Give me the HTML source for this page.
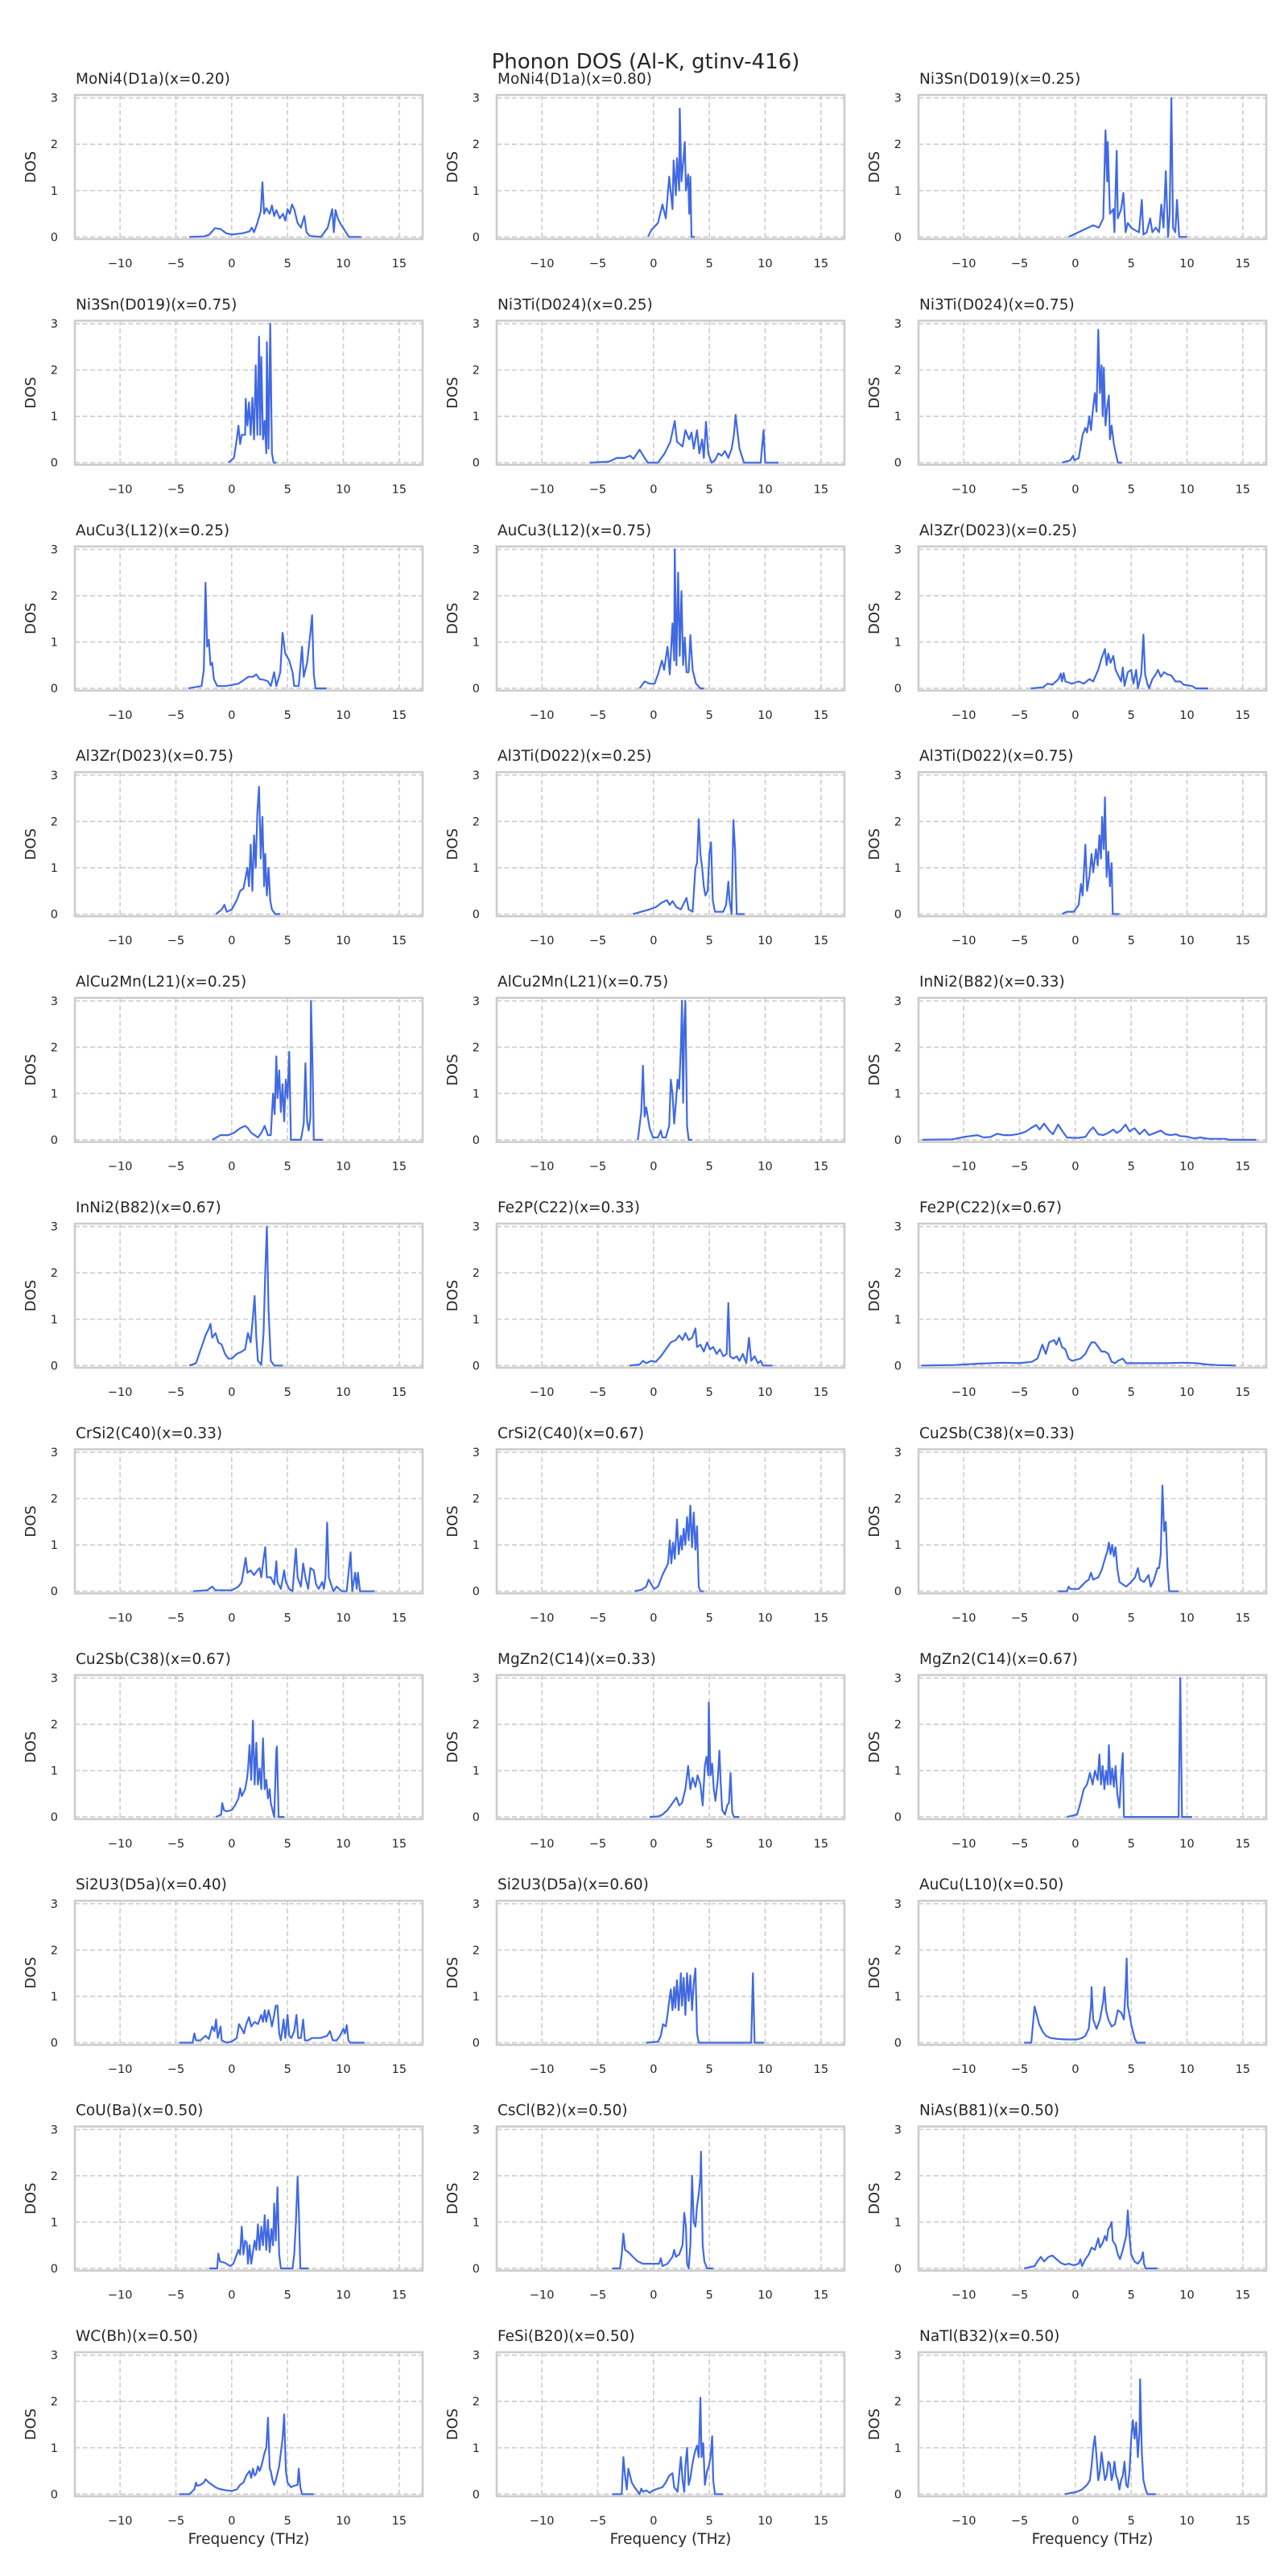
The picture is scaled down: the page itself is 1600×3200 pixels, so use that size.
<!DOCTYPE html>
<html><head><meta charset="utf-8"><title>Phonon DOS (Al-K, gtinv-416)</title>
<style>
html,body{margin:0;padding:0;background:#fff;}
svg{display:block;font-family:"DejaVu Sans","Liberation Sans",sans-serif;}
</style></head>
<body>
<svg id="fig" width="1600" height="3200" viewBox="0 0 1600 3200" xmlns="http://www.w3.org/2000/svg">
<rect width="1600" height="3200" fill="#fff"/>
<text x="802" y="85" font-size="26" text-anchor="middle" fill="#262626">Phonon DOS (Al-K, gtinv-416)</text>
</svg>
<script>
const titles=["MoNi4(D1a)(x=0.20)","MoNi4(D1a)(x=0.80)","Ni3Sn(D019)(x=0.25)","Ni3Sn(D019)(x=0.75)","Ni3Ti(D024)(x=0.25)","Ni3Ti(D024)(x=0.75)","AuCu3(L12)(x=0.25)","AuCu3(L12)(x=0.75)","Al3Zr(D023)(x=0.25)","Al3Zr(D023)(x=0.75)","Al3Ti(D022)(x=0.25)","Al3Ti(D022)(x=0.75)","AlCu2Mn(L21)(x=0.25)","AlCu2Mn(L21)(x=0.75)","InNi2(B82)(x=0.33)","InNi2(B82)(x=0.67)","Fe2P(C22)(x=0.33)","Fe2P(C22)(x=0.67)","CrSi2(C40)(x=0.33)","CrSi2(C40)(x=0.67)","Cu2Sb(C38)(x=0.33)","Cu2Sb(C38)(x=0.67)","MgZn2(C14)(x=0.33)","MgZn2(C14)(x=0.67)","Si2U3(D5a)(x=0.40)","Si2U3(D5a)(x=0.60)","AuCu(L10)(x=0.50)","CoU(Ba)(x=0.50)","CsCl(B2)(x=0.50)","NiAs(B81)(x=0.50)","WC(Bh)(x=0.50)","FeSi(B20)(x=0.50)","NaTl(B32)(x=0.50)"];
const xTicks=[-10,-5,0,5,10,15];
const yTicks=[0,1,2,3];
const freqs=[
[-3.8,-2.5,-2,-1.5,-1,-0.5,0,1,1.6,1.8,2,2.3,2.6,2.75,2.9,3.1,3.4,3.6,3.8,4.0,4.3,4.6,4.8,5.0,5.2,5.4,5.6,5.9,6.2,6.5,6.7,7.0,8,8.6,9.0,9.15,9.3,9.5,9.7,10.1,10.5,11.6],
[-0.5,-0.2,0.4,0.8,1.1,1.4,1.7,1.8,2.0,2.1,2.3,2.35,2.5,2.65,2.8,2.9,3.1,3.2,3.3,3.4,3.7],
[-0.6,1.6,2.1,2.5,2.7,2.85,2.9,3.1,3.4,3.5,3.7,3.8,4.1,4.3,4.5,4.7,5.0,5.3,5.7,5.95,6.1,6.4,6.7,6.9,7.2,7.5,7.7,7.9,8.1,8.3,8.45,8.6,8.75,8.95,9.1,9.3,10],
[-0.3,0.2,0.45,0.6,0.75,0.9,1.2,1.25,1.4,1.55,1.7,1.85,2.0,2.15,2.3,2.45,2.55,2.65,2.8,2.95,3.1,3.15,3.3,3.45,3.6,3.75,4.0],
[-5.7,-4.0,-3.3,-2.6,-2.1,-1.8,-1.25,-0.8,-0.5,0.4,1.0,1.5,1.9,2.1,2.6,2.85,3.2,3.4,3.6,3.9,4.1,4.35,4.5,4.7,4.9,5.2,5.5,5.8,6.1,6.4,6.7,7.0,7.2,7.35,7.5,7.7,8.1,9.6,9.85,10.0,11.2],
[-1.2,-0.45,-0.2,-0.1,0.3,0.65,0.9,1.05,1.25,1.4,1.6,1.75,1.9,2.05,2.2,2.35,2.45,2.55,2.7,2.85,3.0,3.1,3.25,3.45,3.8,4.2],
[-3.9,-2.7,-2.5,-2.35,-2.2,-2.05,-1.9,-1.75,-1.6,-1.3,-0.5,0.6,1.2,1.5,1.9,2.2,2.5,2.95,3.25,3.5,3.8,4.0,4.35,4.55,4.8,5.15,5.45,5.6,6.0,6.3,6.45,6.75,7.05,7.2,7.35,7.5,8.5],
[-1.25,-0.8,-0.35,0.1,0.4,0.75,0.95,1.25,1.45,1.7,1.85,1.9,2.05,2.2,2.35,2.5,2.65,2.8,2.95,3.15,3.3,3.5,3.8,4.2,4.5],
[-4.0,-2.9,-2.5,-2.05,-1.5,-1.3,-1.2,-1.05,-0.9,-0.3,0.3,0.75,1.25,1.6,2.05,2.35,2.65,2.8,2.95,3.15,3.4,3.6,3.8,4.1,4.25,4.4,4.7,5.0,5.2,5.45,5.6,5.9,6.1,6.25,6.45,6.6,6.9,7.2,7.4,7.65,7.95,8.25,8.6,8.95,9.4,9.7,10.45,10.8,11.9],
[-1.4,-0.9,-0.65,-0.45,0,0.45,0.75,1.05,1.25,1.4,1.55,1.7,1.85,2.0,2.15,2.3,2.45,2.6,2.75,2.9,3.0,3.15,3.3,3.45,3.6,3.9,4.35],
[-1.85,-1.1,-0.35,0.2,0.75,1.2,1.45,1.7,2.05,2.45,2.95,3.15,3.5,3.75,3.9,4.05,4.2,4.35,4.5,4.65,4.85,5.0,5.15,5.3,5.5,6.25,6.5,6.7,6.8,7.0,7.15,7.3,7.45,8.15],
[-1.2,-0.75,-0.15,0.3,0.5,0.65,0.9,1.05,1.25,1.45,1.6,1.85,2.0,2.15,2.3,2.4,2.55,2.65,2.8,2.95,3.1,3.25,3.35,3.95],
[-1.75,-1.0,-0.3,0.2,0.75,1.2,1.45,1.75,2.05,2.35,2.65,2.95,3.25,3.5,3.7,3.85,4.0,4.1,4.25,4.4,4.55,4.7,4.85,5.0,5.15,5.3,6.2,6.45,6.6,6.75,6.9,7.05,7.1,7.25,7.35,8.15],
[-1.4,-1.1,-0.95,-0.8,-0.65,-0.35,-0.05,0.4,0.65,0.8,1.1,1.4,1.55,1.7,1.85,2.0,2.15,2.3,2.45,2.55,2.65,2.75,2.85,3.0,3.15,3.45],
[-13.7,-11.0,-10,-9.4,-8.8,-8.2,-7.6,-7.0,-6.4,-5.7,-5.0,-4.4,-4.0,-3.5,-3.2,-2.8,-2.35,-2.0,-1.55,-1.2,-0.75,0.15,0.9,1.3,1.6,2.05,2.5,2.95,3.4,3.7,4.05,4.5,4.85,5.3,5.75,6.2,6.6,7.05,7.65,8.1,8.55,9.0,9.4,10.0,10.6,11.2,11.9,13.5,13.7,16.2],
[-3.8,-3.2,-2.7,-2.35,-2.05,-1.9,-1.75,-1.45,-1.2,-0.9,-0.6,-0.3,0,0.45,0.9,1.2,1.45,1.7,1.9,2.05,2.2,2.35,2.65,2.85,3.0,3.15,3.3,3.5,3.8,4.55],
[-2.15,-1.25,-0.95,-0.65,-0.2,0.2,0.65,1.1,1.55,2.0,2.3,2.6,2.85,3.15,3.45,3.75,3.9,4.2,4.5,4.8,5.05,5.35,5.65,5.95,6.25,6.55,6.7,6.85,7.15,7.45,7.7,8.0,8.3,8.55,8.75,9.05,9.35,9.6,9.8,10.65],
[-13.8,-10.9,-8.7,-6.5,-5.0,-3.9,-3.4,-2.95,-2.65,-2.35,-1.9,-1.7,-1.45,-1.2,-0.9,-0.6,-0.3,0,0.45,0.9,1.2,1.45,1.75,2.05,2.35,2.65,2.95,3.25,3.55,3.8,4.25,4.55,5.3,6.75,8.25,9.7,10.8,11.9,12.65,14.35],
[-3.45,-2.2,-1.75,-1.45,0,0.6,0.9,1.1,1.25,1.4,1.7,2.0,2.3,2.5,2.65,2.85,3.0,3.15,3.5,3.8,4.0,4.1,4.4,4.7,4.85,5.15,5.45,5.75,5.9,6.2,6.4,6.6,6.85,7.05,7.35,7.55,7.8,8.1,8.25,8.4,8.55,8.7,8.9,9.1,9.4,9.85,10.3,10.65,10.8,11.05,11.2,11.3,11.5,12.8],
[-1.7,-1.1,-0.65,-0.45,-0.2,0.05,0.4,0.8,1.1,1.3,1.45,1.6,1.75,1.9,2.1,2.25,2.45,2.55,2.7,2.85,3.0,3.15,3.3,3.45,3.6,3.75,3.9,4.05,4.2,4.5],
[-1.55,-0.75,-0.6,-0.45,0.3,0.9,1.2,1.4,1.6,2.05,2.35,2.65,2.85,3.0,3.15,3.3,3.45,3.6,3.75,3.95,4.25,4.55,5.0,5.35,5.6,5.8,6.15,6.55,6.75,7.05,7.35,7.5,7.65,7.8,7.95,8.1,8.25,8.4,9.25],
[-1.4,-0.95,-0.85,-0.7,-0.45,0,0.3,0.6,0.75,0.9,1.2,1.35,1.45,1.6,1.75,1.9,2.05,2.2,2.35,2.5,2.65,2.8,2.95,3.1,3.25,3.4,3.5,3.7,3.8,4.0,4.05,4.2,4.7],
[-0.35,0.4,0.8,1.25,1.7,2.05,2.3,2.55,2.85,3.1,3.3,3.5,3.75,3.95,4.2,4.4,4.6,4.75,4.9,4.95,5.1,5.25,5.4,5.55,5.75,5.9,6.0,6.15,6.4,6.6,6.75,6.9,7.05,7.2,7.7],
[-0.75,0.15,0.45,0.75,1.05,1.3,1.55,1.75,2.0,2.15,2.3,2.45,2.6,2.75,2.9,3.0,3.15,3.3,3.45,3.6,3.75,3.95,4.1,4.25,4.35,9.25,9.4,9.55,10.45],
[-4.7,-3.5,-3.35,-3.2,-2.8,-2.35,-2.05,-1.75,-1.55,-1.4,-1.25,-1.0,-0.9,-0.45,0.05,0.45,0.65,0.9,1.1,1.3,1.55,1.75,2.05,2.35,2.65,2.8,2.95,3.1,3.3,3.45,3.6,3.8,3.95,4.1,4.25,4.4,4.65,4.8,5.0,5.15,5.35,5.6,5.8,5.95,6.2,6.4,6.55,6.85,7.2,7.95,8.55,8.8,9.05,9.4,9.7,10.0,10.15,10.3,10.45,10.6,11.9],
[-0.65,0.4,0.65,0.85,1.1,1.25,1.4,1.55,1.7,1.85,1.95,2.1,2.25,2.45,2.55,2.7,2.85,3.0,3.15,3.3,3.45,3.6,3.75,3.9,4.05,8.75,8.9,9.05,9.9],
[-4.6,-3.95,-3.65,-3.45,-3.25,-2.95,-2.65,-2.2,-1.6,-0.75,0.15,0.6,0.9,1.2,1.4,1.45,1.6,1.9,2.2,2.5,2.6,2.75,2.95,3.25,3.55,3.8,4.1,4.35,4.5,4.6,4.7,5.0,5.3,5.5,6.3],
[-2.0,-1.3,-1.2,-1.05,-0.6,-0.15,0.15,0.45,0.6,0.75,0.9,1.05,1.2,1.35,1.45,1.6,1.75,2.05,2.2,2.35,2.5,2.65,2.8,2.95,3.1,3.25,3.4,3.55,3.7,3.8,3.95,4.1,4.25,4.4,5.45,5.6,5.75,5.9,6.0,6.15,6.9],
[-3.7,-3.0,-2.85,-2.7,-2.55,-2.25,-1.85,-1.4,-0.95,-0.35,0.2,0.5,0.65,0.8,1.25,1.7,1.85,2.0,2.3,2.6,2.75,2.9,3.0,3.15,3.3,3.45,3.6,3.75,3.9,4.05,4.2,4.25,4.4,4.55,4.8,5.35],
[-4.6,-3.65,-3.4,-3.1,-2.8,-2.4,-2.05,-1.7,-1.3,-0.95,-0.6,-0.15,0.3,0.45,0.6,0.9,1.2,1.45,1.75,2.05,2.2,2.45,2.65,2.8,2.95,3.1,3.25,3.35,3.6,3.8,4.0,4.25,4.55,4.7,4.85,5.0,5.3,5.6,5.9,6.05,6.15,6.3,7.35],
[-4.7,-3.8,-3.35,-3.2,-3.1,-2.8,-2.5,-2.35,-2.05,-1.75,-1.45,-1.2,-0.9,-0.45,0,0.45,0.75,1.05,1.3,1.6,1.75,1.9,2.05,2.2,2.35,2.5,2.65,2.8,2.95,3.1,3.25,3.4,3.5,3.65,3.8,3.95,4.1,4.25,4.4,4.55,4.7,4.85,5.0,5.3,5.6,5.9,6.0,6.15,6.3,7.35],
[-3.7,-2.85,-2.7,-2.55,-2.4,-2.25,-2.1,-1.95,-1.7,-1.4,-1.25,-1.1,-0.95,-0.65,-0.35,-0.05,0.4,0.8,1.1,1.4,1.7,1.85,2.15,2.45,2.6,2.75,2.85,3.0,3.15,3.3,3.45,3.6,3.75,3.9,4.05,4.2,4.3,4.45,4.6,4.8,4.95,5.1,5.25,5.35,5.5,6.25],
[-0.95,-0.3,0.15,0.6,1.05,1.3,1.45,1.6,1.75,1.9,2.05,2.2,2.35,2.5,2.65,2.8,2.95,3.1,3.25,3.35,3.5,3.65,3.8,3.95,4.1,4.25,4.4,4.55,4.7,4.85,5.0,5.15,5.3,5.45,5.6,5.75,5.8,5.95,6.1,6.3,6.45,7.2]
];
const dosValues=[
[0,0.01,0.05,0.19,0.17,0.08,0.05,0.08,0.12,0.2,0.1,0.3,0.55,1.18,0.5,0.62,0.5,0.68,0.45,0.58,0.4,0.5,0.35,0.6,0.5,0.7,0.6,0.3,0.2,0.45,0.1,0.02,0,0.2,0.6,0.1,0.58,0.4,0.3,0.15,0,0],
[0,0.15,0.3,0.7,0.4,1.3,0.6,1.65,0.9,1.7,1.0,2.77,1.2,1.6,2.05,1.0,1.35,0.5,1.3,0,0],
[0,0.25,0.2,0.4,2.3,1.2,2.05,0.5,0.6,0.1,1.86,0.4,0.6,0.95,0.1,0.3,0.2,0.15,0.1,0.8,0.05,0.1,0.4,0.1,0.2,0.1,0.7,0.2,1.42,0,0.5,3.0,0.2,0.1,0.8,0,0],
[0,0.1,0.5,0.8,0.4,0.6,0.6,1.38,0.8,1.3,0.6,1.4,0.5,2.1,0.6,2.72,0.6,2.28,0.5,0.9,0.2,2.6,0.3,3.0,0.2,0,0],
[0,0.02,0.1,0.1,0.15,0.08,0.28,0.1,0,0,0.2,0.45,0.9,0.45,0.35,0.7,0.5,0.65,0.3,0.7,0.2,0.5,0.1,0.88,0.2,0,0.05,0.2,0.15,0.25,0.1,0.3,0.6,1.03,0.7,0.3,0,0,0.7,0,0],
[0,0.05,0.15,0.05,0.1,0.6,0.75,0.65,1.0,0.7,1.2,1.5,1.1,2.87,1.5,2.1,1.0,2.05,0.8,1.2,1.45,0.5,0.8,0.4,0,0],
[0,0.05,0.4,2.28,0.9,1.05,0.5,0.55,0.2,0.05,0.05,0.1,0.2,0.25,0.25,0.3,0.2,0.18,0.15,0.05,0.35,0.05,0.35,1.2,0.75,0.6,0.35,0.05,0.05,0.9,0.25,0.55,1.2,1.58,0.3,0,0],
[0,0.15,0.1,0.1,0.3,0.6,0.4,0.9,0.3,1.4,0.6,3.0,0.5,2.5,0.7,2.1,0.5,1.1,0.35,0.35,1.15,0.4,0.1,0,0],
[0,0.02,0.1,0.08,0.2,0.32,0.15,0.33,0.15,0.1,0.15,0.1,0.2,0.15,0.4,0.65,0.85,0.5,0.75,0.55,0.7,0.4,0.3,0.15,0.45,0.05,0.35,0.4,0.1,0.4,0,0.3,1.16,0.3,0.1,0,0.2,0.3,0.4,0.25,0.35,0.3,0.28,0.15,0.15,0.08,0.05,0,0],
[0,0.1,0.2,0.05,0.1,0.3,0.5,0.55,0.8,1.0,0.6,1.5,0.5,1.7,1.0,2.2,2.75,1.2,2.1,0.6,1.3,0.4,1.0,0.3,0.1,0,0],
[0,0.05,0.1,0.15,0.25,0.3,0.2,0.28,0.15,0.1,0.35,0.1,0.05,1.0,1.1,2.05,1.3,1.0,0.6,0.4,0.5,1.3,1.55,0.3,0.05,0.05,0.2,0.7,0.3,0,2.03,1.4,0,0],
[0,0.05,0.05,0.2,0.65,0.4,1.5,0.5,0.8,1.3,0.9,1.4,1.05,1.7,1.2,2.1,1.4,2.52,0.8,1.35,0.6,1.1,0,0],
[0,0.1,0.1,0.15,0.25,0.3,0.25,0.15,0.1,0.05,0.15,0.3,0.1,0.1,1.0,0.55,1.8,0.9,1.5,0.6,1.2,0.4,1.3,0.9,1.9,0,0,0.35,1.65,0.4,0.2,0.5,3.0,1.5,0,0],
[0,0.6,1.6,0.5,0.7,0.25,0.05,0.05,0.2,0.05,0.05,0.3,1.3,1.0,0.35,0.8,1.3,1.1,2.0,3.0,0.8,2.5,3.0,0.3,0,0],
[0,0.01,0.06,0.08,0.1,0.05,0.06,0.13,0.1,0.1,0.13,0.18,0.25,0.32,0.22,0.35,0.2,0.12,0.33,0.2,0.05,0.04,0.06,0.2,0.27,0.12,0.1,0.15,0.22,0.15,0.2,0.33,0.18,0.25,0.12,0.22,0.1,0.14,0.2,0.12,0.1,0.12,0.08,0.07,0.03,0.05,0.02,0.02,0,0],
[0,0.05,0.4,0.65,0.8,0.9,0.6,0.7,0.5,0.45,0.25,0.15,0.15,0.25,0.3,0.35,0.7,0.5,1.05,1.5,0.6,0.1,0.02,0.7,2.0,3.0,1.2,0.1,0,0],
[0,0.02,0.1,0.05,0.1,0.08,0.2,0.35,0.5,0.55,0.65,0.55,0.7,0.55,0.6,0.8,0.4,0.45,0.3,0.5,0.35,0.4,0.25,0.35,0.2,0.25,1.35,0.2,0.15,0.2,0.1,0.25,0.05,0.6,0.1,0.2,0.05,0.1,0,0],
[0,0.01,0.04,0.06,0.05,0.08,0.15,0.45,0.25,0.5,0.55,0.45,0.6,0.4,0.35,0.15,0.1,0.12,0.15,0.25,0.4,0.5,0.5,0.4,0.3,0.3,0.25,0.08,0.05,0.1,0.15,0.05,0.05,0.05,0.05,0.06,0.05,0.02,0.01,0],
[0,0.02,0.1,0.02,0.02,0.1,0.2,0.5,0.72,0.4,0.45,0.35,0.45,0.5,0.3,0.7,0.95,0.3,0.3,0.15,0.65,0.2,0.05,0.45,0.2,0.05,0,0.92,0.3,0.1,0.6,0.3,0.05,0.5,0.45,0.15,0.05,0.2,0.05,0.3,1.48,0.3,0.15,0,0.1,0,0,0.84,0,0.4,0.05,0.4,0,0],
[0,0.03,0.1,0.25,0.15,0.05,0.1,0.35,0.5,0.6,1.1,0.6,1.05,0.7,1.55,0.8,1.2,0.9,1.35,1.0,1.6,1.1,1.85,0.95,1.7,0.9,1.4,0.1,0,0],
[0,0,0.1,0.05,0.05,0.2,0.25,0.4,0.25,0.3,0.45,0.7,0.85,1.05,0.8,1.0,0.75,0.95,0.5,0.2,0.15,0.1,0.2,0.3,0.5,0.25,0.2,0.35,0.1,0.25,0.5,0.5,0.8,2.28,1.3,1.5,0.5,0,0],
[0,0.05,0.3,0.15,0.12,0.15,0.25,0.4,0.62,0.45,0.6,0.8,1.0,1.55,0.8,2.08,0.7,1.6,0.7,1.05,0.6,1.7,0.6,0.8,0.4,0.6,0.3,0.1,0,1.45,1.52,0,0],
[0,0.01,0.05,0.15,0.3,0.42,0.25,0.3,0.6,1.1,0.6,0.85,0.65,0.9,0.7,0.25,1.1,1.3,0.9,2.47,0.9,1.15,0.6,0.35,0.8,1.43,0.8,0.15,0.05,0.25,0.3,0.95,0.1,0,0],
[0,0.05,0.3,0.6,0.7,0.95,0.7,1.0,0.8,1.35,0.7,1.1,0.6,1.0,0.7,1.55,0.7,1.05,0.65,1.1,0.5,0.2,0.9,1.38,0,0,3.0,0,0],
[0,0,0.2,0.05,0.05,0.15,0.08,0.35,0.25,0.5,0.1,0.35,0.05,0,0.03,0.1,0.4,0.3,0.2,0.4,0.55,0.35,0.45,0.4,0.6,0.45,0.7,0.45,0.7,0.55,0.35,0.6,0.8,0.8,0.2,0.05,0.5,0.1,0.6,0.15,0.1,0.25,0.6,0.1,0.1,0.5,0.05,0.05,0.1,0.1,0.15,0.25,0.05,0.05,0.15,0.3,0.2,0.38,0.05,0,0],
[0,0.02,0.15,0.4,0.35,0.6,0.9,1.15,0.7,1.2,0.75,1.35,0.7,1.5,0.8,1.4,0.6,1.5,0.9,1.45,0.7,1.3,1.6,0.2,0,0,1.5,0,0],
[0,0,0.78,0.6,0.4,0.25,0.15,0.1,0.08,0.07,0.07,0.1,0.15,0.3,0.8,1.2,0.5,0.3,0.5,0.9,1.2,0.7,0.5,0.35,0.4,0.7,0.65,0.5,1.2,1.82,0.8,0.4,0.1,0,0],
[0,0,0.32,0.15,0.12,0.05,0.1,0.3,0.4,0.3,0.9,0.3,0.6,0.55,0.1,0.5,0.1,0.6,0.4,0.95,0.4,0.9,0.5,1.15,0.4,1.05,0.35,0.85,0.5,1.4,0.6,1.75,0.3,0,0,0.3,1.0,1.98,1.3,0,0],
[0,0,0.3,0.75,0.4,0.35,0.25,0.15,0.1,0.1,0.1,0.1,0.22,0.05,0.1,0.25,0.4,0.25,0.3,0.5,1.2,0.9,0.1,0,0.5,2.0,1.0,0.9,1.35,1.6,2.0,2.52,0.5,0.15,0,0],
[0,0.05,0.15,0.25,0.15,0.25,0.28,0.2,0.12,0.08,0.1,0.07,0.1,0.2,0.05,0.2,0.3,0.45,0.4,0.65,0.45,0.55,0.7,0.6,0.85,0.9,1.0,0.6,0.5,0.3,0.2,0.4,0.7,1.25,0.7,0.3,0.15,0.1,0.2,0.35,0.1,0,0],
[0,0,0.1,0.25,0.18,0.2,0.25,0.32,0.25,0.2,0.15,0.12,0.1,0.08,0.07,0.1,0.2,0.25,0.4,0.5,0.35,0.55,0.4,0.45,0.6,0.5,0.6,0.75,0.9,1.0,1.65,0.55,0.5,0.3,0.2,0.3,0.45,0.6,0.9,1.2,1.72,0.5,0.25,0.15,0.18,0.2,0.55,0.15,0,0],
[0,0,0.8,0.4,0.1,0.55,0.4,0.25,0.15,0.05,0,0.12,0.05,0.08,0.03,0.08,0.12,0.15,0.25,0.4,0.45,0.15,0.05,0.8,0.3,0.05,0.6,1.0,0.2,0.35,0.6,0.8,0.95,1.05,0.8,2.08,0.8,1.1,0.2,0.5,0.6,0.8,1.25,0.3,0,0],
[0,0.03,0.05,0.1,0.2,0.3,0.6,1.0,1.25,0.8,0.3,0.5,0.9,0.6,0.3,0.4,0.7,0.65,0.3,0.4,0.7,0.4,0.3,0.1,0.3,0.4,0.7,0.2,0.15,0.5,1.2,1.6,1.2,1.55,0.8,1.4,2.48,0.9,0.3,0.1,0,0]
];
const XMIN=-14.05,XMAX=17.1,YMIN=-0.047,YMAX=3.064;
const AX_W=432,AX_H=179,COL_X=[93,617,1141],ROW_Y0=118,ROW_PITCH=280.4;
const NS="http://www.w3.org/2000/svg";
const svg=document.getElementById('fig');
function mk(tag,attrs,parent){const e=document.createElementNS(NS,tag);for(const k in attrs)e.setAttribute(k,attrs[k]);(parent||svg).appendChild(e);return e;}
const defs=mk('defs',{});
titles.forEach((t,i)=>{
  const col=i%3,row=Math.floor(i/3);
  const L=COL_X[col],T=ROW_Y0+row*ROW_PITCH;
  const sx=v=>L+(v-XMIN)/(XMAX-XMIN)*AX_W;
  const sy=v=>T+(YMAX-v)/(YMAX-YMIN)*AX_H;
  const g=mk('g',{});
  
  
  const cp=mk('clipPath',{id:'clip'+i},defs);
  mk('rect',{x:L,y:T,width:AX_W,height:AX_H},cp);
  xTicks.forEach(v=>{
    const l=mk('line',{x1:sx(v),x2:sx(v),y1:T,y2:T+AX_H,stroke:'#cccccc','stroke-width':1.6,'stroke-dasharray':'6,3.5'},g);
    
    
    const tl=mk('text',{x:sx(v),y:T+AX_H+35,'font-size':14.5,'text-anchor':'middle',fill:'#262626'},g);
    
    
    tl.textContent=v<0?'\u2212'+Math.abs(v):String(v);
  });
  yTicks.forEach(v=>{
    const l=mk('line',{x1:L,x2:L+AX_W,y1:sy(v),y2:sy(v),stroke:'#cccccc','stroke-width':1.6,'stroke-dasharray':'6,3.5'},g);
    
    
    const tl=mk('text',{x:L-21,y:sy(v)+5,'font-size':14.5,'text-anchor':'end',fill:'#262626'},g);
    
    
    tl.textContent=String(v);
  });
  const f=freqs[i],d=dosValues[i];
  let p='';
  for(let k=0;k<f.length;k++){p+=(k?'L':'M')+sx(f[k]).toFixed(1)+' '+sy(d[k]).toFixed(1);}
  const path=mk('path',{d:p,fill:'none',stroke:'#4169e1','stroke-width':2.2,'stroke-linejoin':'round','clip-path':'url(#clip'+i+')'},g);
  
  
  const fr=mk('rect',{x:L,y:T,width:AX_W,height:AX_H,fill:'none',stroke:'#cccccc','stroke-width':2.6},g);
  
  
  const tt=mk('text',{x:L+1,y:T-14,'font-size':18.5,fill:'#262626'},g);
  
  
  tt.textContent=t;
  const yl=mk('text',{x:0,y:0,'font-size':18,'text-anchor':'middle',fill:'#262626',transform:'translate('+(L-49)+','+(T+AX_H/2)+') rotate(-90)'},g);
  
  
  yl.textContent='DOS';
  if(row===10){
    const xl=mk('text',{x:L+AX_W/2,y:T+AX_H+59,'font-size':18.5,'text-anchor':'middle',fill:'#262626'},g);
    
    
    xl.textContent='Frequency (THz)';
  }
});
</script>
</body></html>
